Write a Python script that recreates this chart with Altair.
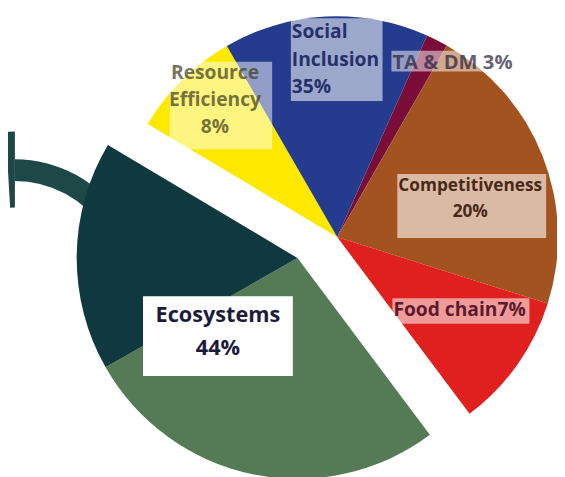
import math
import altair as alt
import pandas as pd

# ---- data (slice shares, clockwise from "TA & DM") ----
slices = ["TA & DM", "Competitiveness", "Food chain", "Ecosystems (green)",
          "Ecosystems (teal)", "Resource Efficiency", "Social Inclusion"]
shares = [1.6, 21.6, 9.9, 27.0, 16.8, 8.1, 15.0]
groups = ["main", "main", "main", "explode", "explode", "main", "main"]

# label texts as printed on the chart
label_texts = ["Social\nInclusion\n35%", "Resource\nEfficiency\n8%", "TA & DM 3%",
               "Competitiveness\n20%", "Food chain7%", "Ecosystems\n44%"]

# ---- styles / layout ----
colors = ["#7a0c38", "#a2531f", "#e0201f", "#557b56", "#10383f", "#fde800", "#253c8e"]
start_angle = math.radians(24.0)
OFF = 8  # page margin
main_center = (342 - OFF, 237 - OFF)
explode_center = (301.7 - OFF, 258.3 - OFF)
pie_r = 224

df = pd.DataFrame({"slice": slices, "share": shares, "group": groups,
                   "order": list(range(len(slices)))})

theta_scale = alt.Scale(domain=[0, 100], range=[start_angle, start_angle + 2 * math.pi])
color_scale = alt.Scale(domain=slices, range=colors)

base = (alt.Chart(df)
        .transform_window(end="sum(share)", sort=[alt.SortField("order")], frame=[None, 0])
        .transform_calculate(start="datum.end - datum.share"))

main = base.transform_filter("datum.group == 'main'").mark_arc(radius=pie_r).encode(
    theta=alt.Theta("start:Q", scale=theta_scale),
    theta2="end:Q",
    color=alt.Color("slice:N", scale=color_scale, legend=None),
    x=alt.value(main_center[0]), y=alt.value(main_center[1]),
)
explode = base.transform_filter("datum.group == 'explode'").mark_arc(radius=pie_r).encode(
    theta=alt.Theta("start:Q", scale=theta_scale),
    theta2="end:Q",
    color=alt.Color("slice:N", scale=color_scale, legend=None),
    x=alt.value(explode_center[0]), y=alt.value(explode_center[1]),
)

# decorative arrow on the left
deco = pd.DataFrame({"k": [0]})
ring = alt.Chart(deco).mark_arc(radius=129, radius2=107, theta=0, theta2=1.0,
                                color="#1e4848").encode(
    x=alt.value(15 - OFF), y=alt.value(287 - OFF))
bar = alt.Chart(deco).mark_arc(radius=157, radius2=80, theta=2 * math.pi - 0.06,
                               theta2=2 * math.pi, color="#1e4848").encode(
    x=alt.value(15 - OFF), y=alt.value(287 - OFF))

# label boxes: (x1, y1, x2, y2, opacity)
boxes = [(295, 15, 388, 99, 0.55), (172, 59, 276, 148, 0.5), (397, 48, 520, 69, 0.5),
         (403, 173, 554, 238, 0.6), (398, 299, 537, 325, 0.55), (145, 297, 297, 378, 1.0)]
# text: (x, y, align, size, lineHeight, color, opacity)
texts = [(296, 35, "left", 19.5, 28, "#26306b", 1.0),
         (218, 77, "center", 19.5, 27, "#3c3c1e", 0.7),
         (398, 66, "left", 20.5, 20, "#281e3c", 0.7),
         (477, 190, "center", 17.5, 27, "#4a2818", 1.0),
         (399, 317, "left", 19.5, 20, "#5c1a2c", 1.0),
         (221, 323, "center", 22, 34, "#1b1b3a", 1.0)]

layers = [ring, bar, main, explode]
for (x1, y1, x2, y2, op) in boxes:
    layers.append(alt.Chart(deco).mark_rect(color="white", opacity=op).encode(
        x=alt.value(x1 - OFF), x2=alt.value(x2 - OFF),
        y=alt.value(y1 - OFF), y2=alt.value(y2 - OFF)))
for txt, (x, y, al, sz, lh, col, op) in zip(label_texts, texts):
    layers.append(alt.Chart(deco).mark_text(
        text=txt, lineBreak="\n", align=al, baseline="alphabetic", font="Open Sans",
        fontWeight="bold", fontSize=sz, lineHeight=lh, color=col, opacity=op).encode(
        x=alt.value(x - OFF), y=alt.value(y - OFF)))

chart = alt.layer(*layers).properties(
    width=557, height=469, padding=0, autosize="none"
).configure_view(strokeWidth=0)

chart.save("out.html", embed_options={"renderer": "svg", "actions": False})
